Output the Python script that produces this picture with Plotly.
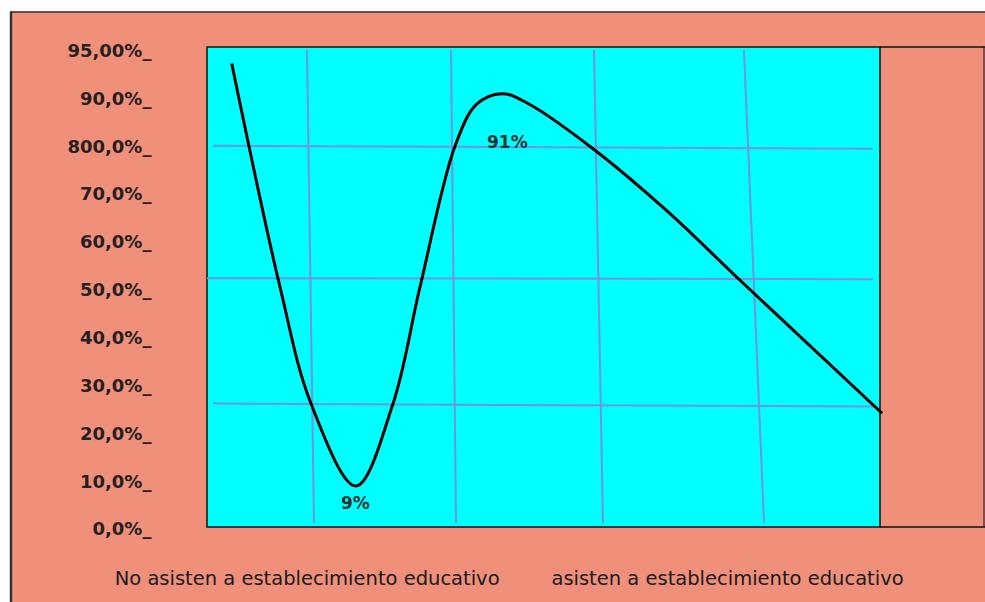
import plotly.graph_objects as go

# ---------------- data ----------------
curve_x = [0.0368, 0.1086, 0.1548, 0.2217, 0.2768, 0.3170,
           0.3690, 0.4013, 0.4385, 0.4757, 0.5744, 0.6845, 0.7932, 1.0045]
curve_y = [97.3, 50.6, 26.2, 9.0, 26.2, 50.6,
           80.0, 88.8, 91.0, 89.1, 79.5, 66.5, 52.0, 24.2]

category_labels = ["No asisten a establecimiento educativo",
                   "asisten a establecimiento educativo"]
category_pos = [0.149, 0.7746]

y_tickvals = [0, 10, 20, 30, 40, 50, 60, 70, 80, 90, 100]
y_ticktext = ["0,0%_", "10,0%_", "20,0%_", "30,0%_", "40,0%_", "50,0%_",
              "60,0%_", "70,0%_", "800,0%_", "90,0%_", "95,00%_"]

min_label = "9%"
max_label = "91%"

# ---------------- layout geometry ----------------
W, H = 985, 602
L, R, T, B = 207, 95, 47, 64
PW, PH = W - L - R, H - T - B


def px(x):
    return (x - L) / PW


def py(y):
    return (H - B - y) / PH


SALMON = "#F0907A"
CYAN = "#00FFFF"
GRID = "#7094E0"
FRAME = "#333333"

shapes = []
# outer salmon panel
shapes.append(dict(type="rect", xref="paper", yref="paper", layer="below",
                   x0=px(10), x1=px(990), y0=py(11), y1=py(610),
                   fillcolor=SALMON, line=dict(width=0)))
# outer frame lines
shapes.append(dict(type="line", xref="paper", yref="paper", layer="below",
                   x0=px(10), x1=px(990), y0=py(11.5), y1=py(11.5),
                   line=dict(color=FRAME, width=1.5)))
shapes.append(dict(type="line", xref="paper", yref="paper", layer="below",
                   x0=px(11), x1=px(11), y0=py(11), y1=py(610),
                   line=dict(color=FRAME, width=2.5)))
# cyan plot area
shapes.append(dict(type="rect", xref="paper", yref="paper", layer="below",
                   x0=px(207), x1=px(880), y0=py(533), y1=py(47),
                   fillcolor=CYAN, line=dict(color="#111111", width=1.5)))
# right extension box lines
for yy in (47, 533):
    shapes.append(dict(type="line", xref="paper", yref="paper", layer="below",
                       x0=px(880), x1=px(990), y0=py(yy), y1=py(yy),
                       line=dict(color="#111111", width=1.5)))
shapes.append(dict(type="line", xref="paper", yref="paper", layer="below",
                   x0=px(984), x1=px(984), y0=py(47), y1=py(533),
                   line=dict(color="#111111", width=1)))

# hand-drawn looking grid lines
grid_segments = [
    # vertical (x_top, y_top, x_bottom, y_bottom)
    (307, 50, 314, 529),
    (451, 50, 456, 529),
    (594, 50, 603, 529),
    (744, 50, 764, 529),
    # horizontal
    (213, 147, 873, 150),
    (207, 281, 873, 282),
    (213, 408, 875, 411),
]
for x0, y0, x1, y1 in grid_segments:
    shapes.append(dict(type="line", xref="paper", yref="paper", layer="below",
                       x0=px(x0), y0=py(y0), x1=px(x1), y1=py(y1),
                       line=dict(color=GRID, width=2)))

fig = go.Figure()
fig.add_trace(go.Scatter(
    x=curve_x, y=curve_y, mode="lines",
    line=dict(color="black", width=3, shape="spline", smoothing=1.0,
              simplify=False),
    hoverinfo="skip", showlegend=False))

i_min = curve_y.index(min(curve_y))
i_max = i_min + curve_y[i_min:].index(max(curve_y[i_min:]))
label_font = dict(family="DejaVu Sans", size=17, color="#173030", weight="bold")
annotations = [
    dict(x=curve_x[i_min], y=curve_y[i_min], text=min_label, showarrow=False,
         yshift=-17, font=label_font),
    dict(x=curve_x[i_max], y=curve_y[i_max], text=max_label, showarrow=False,
         xshift=6, yshift=-48, font=label_font),
]

fig.update_layout(
    width=W, height=H,
    margin=dict(l=L, r=R, t=T, b=B, pad=0),
    paper_bgcolor="white",
    plot_bgcolor="rgba(0,0,0,0)",
    shapes=shapes,
    annotations=annotations,
    showlegend=False,
    xaxis=dict(range=[0, PW / 672.0], showgrid=False, zeroline=False,
               showline=False, tickmode="array", tickvals=category_pos,
               ticktext=category_labels, ticks="outside", ticklen=29,
               tickcolor="rgba(0,0,0,0)",
               tickfont=dict(family="DejaVu Sans", size=19.5, color="#1a1a1a"),
               fixedrange=True),
    yaxis=dict(range=[-0.62, 100.76], showgrid=False, zeroline=False,
               showline=False, tickmode="array", tickvals=y_tickvals,
               ticktext=y_ticktext, ticks="outside", ticklen=51,
               tickcolor="rgba(0,0,0,0)",
               tickfont=dict(family="DejaVu Sans", size=18, color="#262020",
                             weight="bold"),
               fixedrange=True),
)

fig.write_html("out.html", config={"displayModeBar": False},
               post_script="document.body.style.margin='0';")
